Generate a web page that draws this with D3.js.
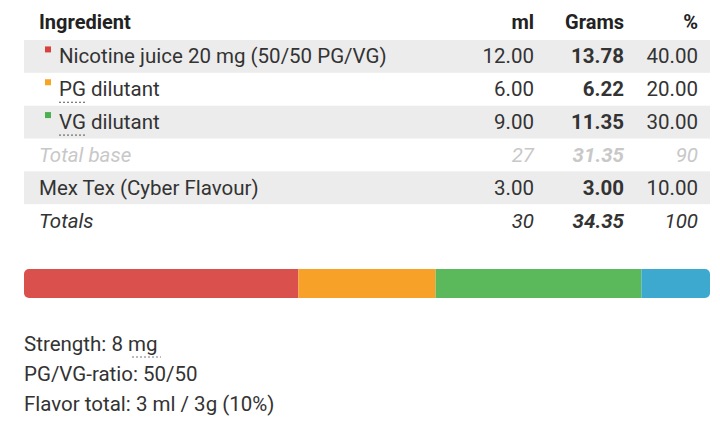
<!DOCTYPE html>
<html><head><meta charset="utf-8">
<script src="https://cdn.jsdelivr.net/npm/d3@7"></script>
<style>body{margin:0;background:#fff;font-family:Roboto,sans-serif;}</style>
</head><body><div id="chart"></div>
<script>
// table data
const names = ["Nicotine juice 20 mg (50/50 PG/VG)", "PG dilutant", "VG dilutant", "Total base", "Mex Tex (Cyber Flavour)", "Totals"];
const ml = ["12.00", "6.00", "9.00", "27", "3.00", "30"];
const grams = ["13.78", "6.22", "11.35", "31.35", "3.00", "34.35"];
const pct = ["40.00", "20.00", "30.00", "90", "10.00", "100"];
const rowKind = ["item", "item", "item", "subtotal", "item", "total"];
const swatch = ["#d9413f", "#f5a623", "#4caf50", null, null, null];

// bar data
const segNames = ["Nicotine juice", "PG", "VG", "Flavour"];
const segPct = [40, 20, 30, 10];
const segColors = ["#d9504d", "#f7a128", "#5bb85b", "#3ea9cf"];

const footer = ["Strength: 8 mg", "PG/VG-ratio: 50/50", "Flavor total: 3 ml / 3g (10%)"];

const W = 720, H = 425, FS = "20.5px";
const svg = d3.select("#chart").append("svg").attr("width", W).attr("height", H);

const rowY = d3.scaleBand().domain(d3.range(names.length)).range([40, 237]);
const cols = [534, 624, 698];

// header
const hdr = svg.append("g").style("font-size", "20px").style("font-weight", "bold").attr("fill", "#222");
hdr.append("text").attr("x", 39).attr("y", 29).text("Ingredient");
["ml", "Grams", "%"].forEach((t, i) =>
  hdr.append("text").attr("x", cols[i]).attr("y", 29).attr("text-anchor", "end").text(t));

const rows = svg.selectAll("g.row").data(names).join("g").attr("class", "row")
  .attr("transform", (d, i) => `translate(0,${rowY(i)})`);

rows.filter((d, i) => i % 2 === 0).append("rect")
  .attr("x", 24).attr("width", 686).attr("height", rowY.bandwidth()).attr("fill", "#ececec");

const bh = rowY.bandwidth();
rows.each(function(d, i) {
  const g = d3.select(this);
  const kind = rowKind[i];
  const col = kind === "subtotal" ? "#c8c8c8" : "#333";
  const style = kind === "item" ? "normal" : "italic";
  const x0 = swatch[i] ? 59 : 39;
  if (swatch[i]) g.append("rect").attr("x", 45).attr("y", bh / 2 - 10).attr("width", 6).attr("height", 6).attr("fill", swatch[i]);
  g.append("text").attr("x", x0).attr("y", bh / 2 + 7).attr("fill", col)
    .style("font-size", FS).style("font-style", style).text(d);
  if (i === 1 || i === 2) {
    g.append("line").attr("x1", 59).attr("x2", 86).attr("y1", bh / 2 + 13).attr("y2", bh / 2 + 13)
      .attr("stroke", "#555").attr("stroke-dasharray", "2,2");
  }
  [ml[i], grams[i], pct[i]].forEach((v, j) => {
    g.append("text").attr("x", cols[j]).attr("y", bh / 2 + 7).attr("text-anchor", "end")
      .attr("fill", col).style("font-size", FS).style("font-style", style)
      .style("font-weight", j === 1 ? "bold" : "normal").text(v);
  });
});

// stacked bar
const x = d3.scaleLinear().domain([0, d3.sum(segPct)]).range([24, 710]);
const cum = d3.cumsum(segPct);
const barG = svg.append("g");
barG.append("clipPath").attr("id", "clip").append("rect")
  .attr("x", 24).attr("y", 269).attr("width", 686).attr("height", 29).attr("rx", 5);
barG.attr("clip-path", "url(#clip)").selectAll("rect.seg").data(segPct).join("rect").attr("class", "seg")
  .attr("x", (d, i) => x(cum[i] - d)).attr("width", d => x(d) - x(0))
  .attr("y", 269).attr("height", 29).attr("fill", (d, i) => segColors[i]);

// footer
svg.selectAll("text.foot").data(footer).join("text").attr("class", "foot")
  .attr("x", 24).attr("y", (d, i) => 351 + i * 30).attr("fill", "#333").style("font-size", FS).text(d => d);
svg.append("line").attr("x1", 132).attr("x2", 161).attr("y1", 357).attr("y2", 357)
  .attr("stroke", "#777").attr("stroke-dasharray", "2,2");
</script></body></html>
